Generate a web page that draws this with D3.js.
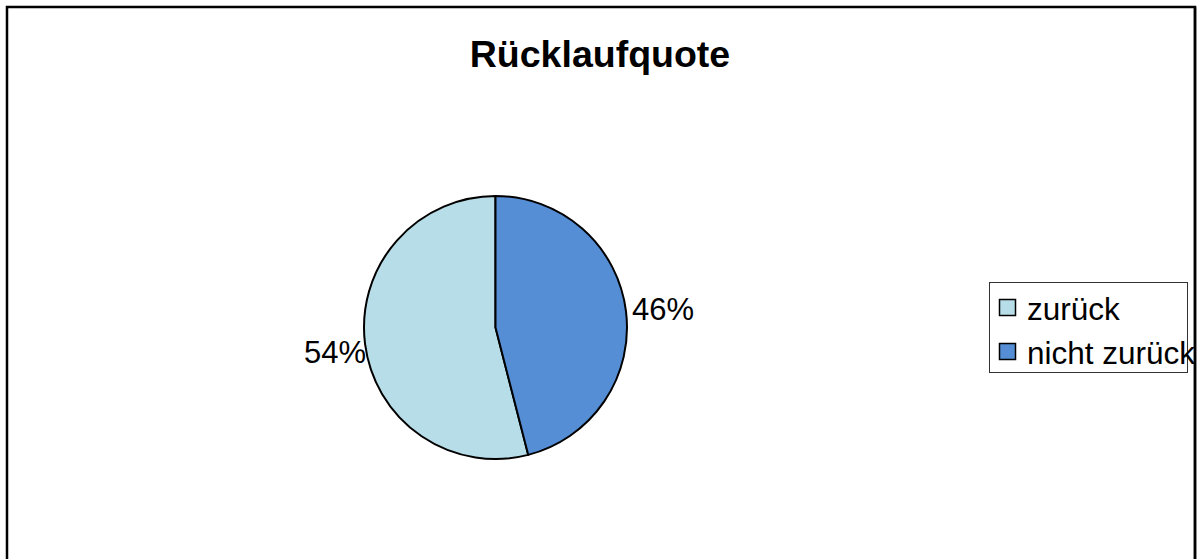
<!DOCTYPE html>
<html>
<head>
<meta charset="utf-8">
<script src="https://cdn.jsdelivr.net/npm/d3@7"></script>
<style>
  body { margin: 0; background: #fff; }
  svg { display: block; font-family: Arial, "Liberation Sans", sans-serif; }
</style>
</head>
<body>
<div id="chart-area"></div>
<script>
var categories = ["zurück", "nicht zurück"];
var values = [54, 46];
var labels = ["54%", "46%"];
var colors = ["#b7dee8", "#558ed5"];

var svg = d3.select("#chart-area").append("svg")
    .attr("width", 1199)
    .attr("height", 559);

// outer chart frame (bottom edge runs off the picture)
svg.append("rect")
    .attr("x", 7).attr("y", 7)
    .attr("width", 1188).attr("height", 620)
    .attr("fill", "#fff")
    .attr("stroke", "#000")
    .attr("stroke-width", 2.5);

svg.append("text")
    .attr("x", 600).attr("y", 67)
    .attr("text-anchor", "middle")
    .attr("font-size", 37.5)
    .attr("font-weight", "bold")
    .text("Rücklaufquote");

var cx = 495.5, cy = 327.5, r = 131.5;

var total = d3.sum(values);
// first slice starts where the second one ends, like the original
var start = 2 * Math.PI * values[1] / total;
var pie = d3.pie().sort(null).startAngle(start).endAngle(start + 2 * Math.PI);
var arcs = pie(values);
var arc = d3.arc().innerRadius(0).outerRadius(r);

var g = svg.append("g").attr("transform", "translate(" + cx + "," + cy + ")");

g.selectAll("path")
    .data(arcs)
    .enter()
    .append("path")
    .attr("d", arc)
    .attr("fill", (d, i) => colors[i])
    .attr("stroke", "#000")
    .attr("stroke-width", 2)
    .attr("stroke-linejoin", "round");

g.selectAll("text.lbl")
    .data(arcs)
    .enter()
    .append("text")
    .attr("class", "lbl")
    .attr("x", (d) => {
        var a = (d.startAngle + d.endAngle) / 2;
        return Math.sin(a) < 0 ? (r - 1) * Math.sin(a) : (r + 6) * Math.sin(a);
    })
    .attr("y", (d) => {
        var a = (d.startAngle + d.endAngle) / 2;
        var y = -(r + 6) * Math.cos(a);
        return y + (Math.sin(a) < 0 ? 18 : 10);
    })
    .attr("text-anchor", (d) => Math.sin((d.startAngle + d.endAngle) / 2) < 0 ? "end" : "start")
    .attr("font-size", 31)
    .text((d, i) => labels[i]);

// legend
var lg = svg.append("g");
lg.append("rect")
    .attr("x", 989.5).attr("y", 282.5)
    .attr("width", 198).attr("height", 90)
    .attr("fill", "#fff")
    .attr("stroke", "#333")
    .attr("stroke-width", 1);

var items = lg.selectAll("g.item")
    .data(categories)
    .enter()
    .append("g")
    .attr("class", "item")
    .attr("transform", (d, i) => "translate(0," + (i * 44) + ")");

items.append("rect")
    .attr("x", 999.5).attr("y", 299.5)
    .attr("width", 16).attr("height", 16)
    .attr("fill", (d, i) => colors[i])
    .attr("stroke", "#000")
    .attr("stroke-width", 1.5);

items.append("text")
    .attr("x", 1027).attr("y", 320)
    .attr("font-size", 31.5)
    .text((d) => d);

// redraw right frame edge over legend text overflow
svg.append("line")
    .attr("x1", 1195).attr("x2", 1195)
    .attr("y1", 7).attr("y2", 559)
    .attr("stroke", "#000")
    .attr("stroke-width", 2.5);
</script>
</body>
</html>
